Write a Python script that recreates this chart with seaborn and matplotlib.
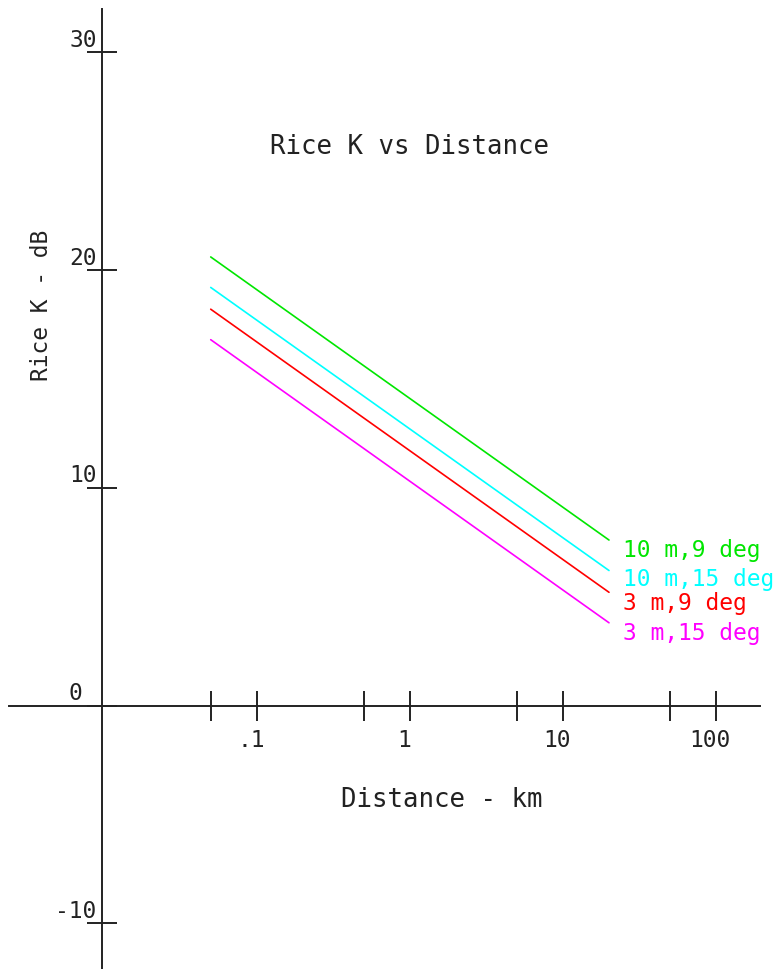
import matplotlib
matplotlib.use("Agg")
import matplotlib.pyplot as plt
import matplotlib.transforms as mtransforms
import seaborn as sns
import pandas as pd

# ---- data ----
distance_km = [0.05, 20.0]
k_10m_9deg = [20.6, 7.6]
k_10m_15deg = [19.2, 6.2]
k_3m_9deg = [18.2, 5.2]
k_3m_15deg = [16.8, 3.8]
series_names = ["10 m,9 deg", "10 m,15 deg", "3 m,9 deg", "3 m,15 deg"]
series_colors = ["#00e600", "#00ffff", "#ff0000", "#ff00ff"]
x_ticks = [0.05, 0.1, 0.5, 1, 5, 10, 50, 100]
x_tick_labels = {0.1: ".1", 1: "1", 10: "10", 100: "100"}
y_ticks = [-10, 0, 10, 20, 30]

rows = []
for name, vals in zip(series_names, [k_10m_9deg, k_10m_15deg, k_3m_9deg, k_3m_15deg]):
    for d, v in zip(distance_km, vals):
        rows.append({"Distance": d, "K": v, "Series": name})
df = pd.DataFrame(rows)

sns.set_style("white")
plt.rcParams["font.family"] = ["DejaVu Sans Mono", "DejaVu Sans"]

fig = plt.figure(figsize=(7.8, 9.69), dpi=100)
ax = fig.add_axes([0, 0, 1, 1])
ax.set_xscale("log")
ax.set_xlim(0.0021, 262)
ax.set_ylim(-12.1, 32.4)

sns.lineplot(data=df, x="Distance", y="K", hue="Series", hue_order=series_names,
             palette=series_colors, linewidth=1.2, legend=False, ax=ax)
ax.set_xlabel("")
ax.set_ylabel("")

# axes as crossing lines
for s in ["top", "right"]:
    ax.spines[s].set_visible(False)
ax.spines["left"].set_position(("data", 0.0097))
ax.spines["bottom"].set_position(("data", 0))
ax.spines["left"].set_bounds(-13, 32.0)
ax.spines["bottom"].set_bounds(0.0024, 194)
for s in ["left", "bottom"]:
    ax.spines[s].set_color("#222222")
    ax.spines[s].set_linewidth(1.4)

ax.set_xticks(x_ticks)
ax.set_xticklabels([])
ax.xaxis.set_minor_locator(matplotlib.ticker.NullLocator())
ax.set_yticks(y_ticks)
ax.set_yticklabels([])
ax.tick_params(axis="both", which="major", direction="inout", length=22, width=1.4,
               color="#222222", bottom=True, left=True)

fs = 16.5
dpi_tr = fig.dpi_scale_trans
# y tick labels
for yv in y_ticks:
    dx = -0.19 if yv == 0 else -0.05
    off = mtransforms.ScaledTranslation(dx, 0.12, dpi_tr)
    ax.text(0.0097, yv, "%d" % yv, ha="right", va="center", fontsize=fs,
            color="#222222", transform=ax.transData + off)
# x tick labels
for xv, lab in x_tick_labels.items():
    off = mtransforms.ScaledTranslation(-0.06, -0.35, dpi_tr)
    ax.text(xv, 0, lab, ha="center", va="center", fontsize=fs,
            color="#222222", transform=ax.transData + off)

# series labels at line ends
label_offsets = [-0.10, -0.09, -0.11, -0.11]
for name, col, vals, dy in zip(series_names, series_colors,
                               [k_10m_9deg, k_10m_15deg, k_3m_9deg, k_3m_15deg],
                               label_offsets):
    off = mtransforms.ScaledTranslation(0.14, dy, dpi_tr)
    ax.text(distance_km[-1], vals[-1], name, ha="left", va="center", fontsize=fs,
            color=col, transform=ax.transData + off)

fig.text(410 / 780, 1 - 147 / 969, "Rice K vs Distance", ha="center", va="center",
         fontsize=18.5, color="#222222")
fig.text(442 / 780, 1 - 800 / 969, "Distance - km", ha="center", va="center",
         fontsize=18.5, color="#222222")
fig.text(42 / 780, 1 - 305 / 969, "Rice K - dB", ha="center", va="center",
         rotation=90, fontsize=16.5, color="#222222")

fig.savefig("out.png", dpi=100, facecolor="white")
